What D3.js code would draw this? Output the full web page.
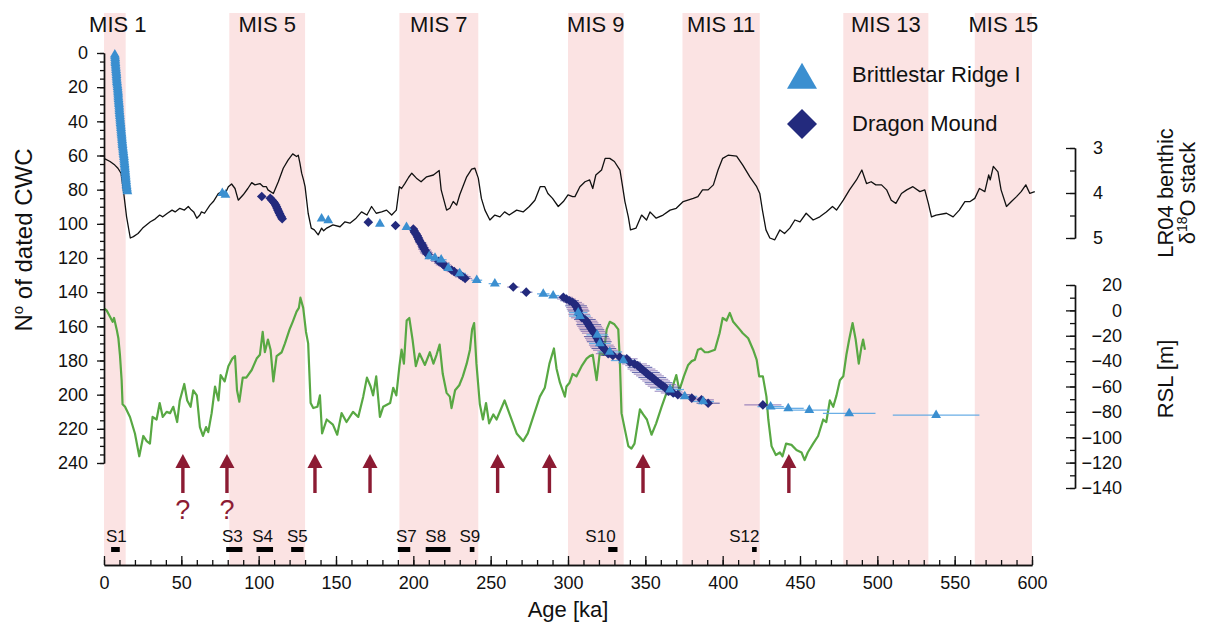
<!DOCTYPE html>
<html><head><meta charset="utf-8">
<script src="https://cdn.jsdelivr.net/npm/d3@7"></script>
<style>html,body{margin:0;padding:0;background:#fff;}svg{display:block;font-family:"Liberation Sans",Arial,Helvetica,sans-serif;}</style>
</head><body><svg id="c" width="1209" height="628"></svg>
<script>
// ---------------- DATA ----------------
const misLabels = ["MIS 1","MIS 5","MIS 7","MIS 9","MIS 11","MIS 13","MIS 15"];
const misStart  = [0, 81, 191, 300, 374, 478, 563];
const misEnd    = [14, 130, 242, 336, 424, 533, 600];

const ageTicks  = [0,50,100,150,200,250,300,350,400,450,500,550,600];
const nTicks    = [0,20,40,60,80,100,120,140,160,180,200,220,240];
const lrTicks   = [3,4,5];
const rslTicks  = [20,0,-20,-40,-60,-80,-100,-120,-140];

// LR04 benthic d18O stack (age ka, permil)
const lr04Age = [0,3.9,7,9,11,12.5,14.6,17,19,22,25,30,33,36,38,41,44,46,49,52,54.5,56,58,60,62,63,65,68.5,70.7,72,74,76,78,80.4,82.5,84.7,86.8,90,93,95.5,97.6,100.8,103,105,106,109.5,112.7,115.9,119,122,124.5,125.6,126.7,127.8,129,130,132,134,136,138.5,140.7,142,144,148,152.6,155.8,159,163,166.5,170,173,176,179.5,182.7,186,189,191,192.4,194.5,197,199,202,205,208.6,213,216.7,218,221.5,223.6,225.8,228,230,234.5,237.7,239.8,242,244,246.3,249.5,252.7,256,259,262,266.8,271,275,278.6,282,285,287,290,293.7,297,300,303,304.5,307.7,311,314,316,318,321.7,324,327,330,333.6,335,336.8,339,340.4,344,347.6,350.8,353,357,361.5,366,370,374.5,381,384,387,390.6,394,397,400,403.5,409,413,417.6,422,424,425.7,428,430.5,433.7,437,440,443.4,446.7,450,454,458.5,462.8,467,471,473.6,478,482,486.5,490,493,496,499,502.7,506,509,512,515.6,519,523,527.5,530.7,533,535,538,544.7,549,553,556.6,560,563,566,569.5,572,573,575,578,580,583.5,586.7,590,593,596,598.6,601.8];
const lr04Val = [3.23,3.30,3.38,3.45,3.56,3.93,4.53,5.00,4.97,4.90,4.78,4.64,4.58,4.49,4.53,4.45,4.38,4.42,4.34,4.38,4.30,4.36,4.42,4.56,4.49,4.42,4.45,4.27,4.19,4.12,4.01,3.97,4.04,3.86,3.80,3.90,4.16,4.04,3.90,3.77,3.82,3.79,3.86,3.86,3.93,4.01,3.75,3.45,3.27,3.13,3.19,3.16,3.34,3.56,3.71,3.86,4.45,4.78,4.82,4.93,4.78,4.84,4.78,4.71,4.75,4.64,4.67,4.56,4.42,4.49,4.30,4.45,4.42,4.38,4.49,4.38,3.86,3.90,3.79,3.65,3.56,3.67,3.75,3.64,3.60,3.50,3.93,4.38,4.34,4.19,4.27,4.04,3.64,3.47,3.45,3.67,4.12,4.38,4.60,4.49,4.53,4.42,4.49,4.38,4.42,4.30,4.16,3.86,3.86,4.01,4.12,4.30,4.19,4.04,4.08,4.08,3.86,3.75,3.71,3.90,3.60,3.49,3.23,3.23,3.30,3.49,3.79,4.19,4.53,4.82,4.78,4.49,4.60,4.42,4.56,4.49,4.38,4.34,4.19,4.12,4.08,3.93,3.93,3.82,3.49,3.23,3.16,3.18,3.38,3.64,3.86,4.01,4.38,4.82,5.00,5.04,4.82,4.90,4.78,4.60,4.64,4.45,4.60,4.53,4.42,4.30,4.38,4.16,3.93,3.71,3.49,3.79,3.75,3.82,3.82,3.93,4.16,4.23,4.01,3.93,3.86,3.97,3.93,4.23,4.53,4.49,4.45,4.53,4.38,4.19,4.19,4.12,3.90,3.97,3.60,3.71,3.41,3.53,3.93,4.30,4.19,4.08,3.97,3.82,4.01,3.97];

// Relative sea level (age ka, m)
const rslAge = [0,1.7,3.9,5.6,6.5,8.2,9.3,10.3,11.4,12,13.6,16.8,20,22.8,25.4,27.6,29.7,31.4,34,36,38,40.5,42.7,44.8,47.3,49,51.9,53.8,56,57.7,60,62,64,66,67.4,69.6,71.8,74,75.4,78,80.4,83,84.7,86,87.5,89.7,92,95.5,98.7,100.8,102.6,104,106,107.7,109.5,111.6,114.9,117,120,122,124.5,126,127,128.8,130.6,132,133.6,135.3,138,139.6,141,144,148,150.8,153.6,156.8,161,164.4,167.6,170,172.4,174,176,178.4,180.5,185,187,189,191,192.4,193.9,195.7,197.4,199.5,201.6,204,207.5,210.7,213,215,217,219,221.5,223.6,224.7,227,229.7,232,234.5,236.6,238,239.3,240.8,243,245,247,249,251.7,253.8,259,262,266.8,271,274,277.5,281.8,285,288,290.9,292.6,294.8,298,299,301,303,305.5,308.8,312,314,316,318.5,320.6,323,325,327,330,332.5,333.5,334.6,336.8,339,341,343,346.5,348.6,351,354,357,360.5,363.7,366.9,370,372,374.9,377.7,380,382,384,386,388.5,390.6,395,398,400,402.5,404.6,406.8,411,413,416.5,419.7,422,423.6,426,428.3,429.5,431.6,434.4,437,438.7,441,444.5,447.7,451,453,455,458.5,461.7,465,467,469.3,471.5,473.6,475.8,478,480,481.8,484,486,488,489.7,490.8,492];
const rslVal = [1.6,0,-5,-9,-6,-15,-22,-35,-55,-74,-76,-84,-97,-115,-99,-103,-105,-84,-86,-73,-84,-80,-81,-76,-88,-71,-58,-71,-76,-63,-67,-92,-99,-92,-96,-81,-60,-71,-51,-56,-44,-38,-36,-63,-72,-53,-53,-47,-38,-35,-17,-33,-23,-31,-56,-36,-33,-26,-15,-9,-1,2,10,2,-17,-26,-73,-77,-76,-67,-97,-86,-90,-98,-81,-88,-80,-84,-68,-53,-60,-67,-52,-84,-76,-73,-61,-67,-44,-31,-42,-8,-6,-23,-44,-34,-43,-33,-42,-35,-27,-50,-65,-68,-77,-63,-59,-52,-42,-31,-15,-10,-42,-74,-86,-73,-89,-82,-86,-71,-81,-97,-103,-97,-84,-68,-61,-42,-30,-46,-57,-68,-60,-57,-50,-52,-44,-38,-36,-35,-55,-33,-35,-15,-9,-11,-15,-39,-81,-94,-107,-109,-105,-78,-82,-86,-98,-89,-76,-65,-63,-51,-63,-52,-43,-40,-39,-31,-30,-33,-33,-31,-18,-6,-8,-2,-9,-15,-18,-22,-31,-39,-52,-52,-68,-86,-107,-114,-112,-115,-105,-106,-110,-112,-118,-112,-105,-99,-86,-88,-71,-76,-67,-55,-52,-35,-23,-10,-23,-42,-29,-23,-31];

// Brittlestar Ridge I - Holocene cluster: ages (ka) of dated corals 1..81
const briHoloceneAge = [7.0,7.1,7.2,7.3,7.3,7.4,7.5,7.6,7.7,7.8,7.9,8.0,8.1,8.1,8.2,8.3,8.4,8.5,8.7,8.8,8.9,9.0,9.1,9.2,9.2,9.3,9.4,9.5,9.6,9.7,9.8,9.9,9.9,10.0,10.1,10.2,10.3,10.4,10.5,10.6,10.7,10.8,10.9,11.0,11.1,11.2,11.3,11.4,11.5,11.6,11.7,11.8,11.9,12.0,12.1,12.3,12.4,12.5,12.6,12.8,12.9,13.0,13.1,13.2,13.3,13.4,13.5,13.6,13.7,13.8,13.9,14.0,14.1,14.2,14.3,14.4,14.5,14.6,14.8,14.9,15.1];
// Brittlestar Ridge I - older corals: [age ka, N, 2σ error ka]
const briPoints = [[76.5,82,1],[78.5,83,1],[140.7,97,1.5],[145,98,1.5],[178.4,100,2],[195.6,102,2],[210.3,119,3],[214,120,3],[218,121,3.5],[222.6,126,4],[230,129,4],[241,133,3.5],[252.7,135,4],[284,141,4],[290.4,142,4],[306.6,152,6],[307.7,154,7],[318.9,165,7],[320.6,170,7],[327,175,8],[335.7,180,8],[366,197,9],[375.5,201,8],[387.4,204,7],[431,207,8.5],[442.4,208,10],[456,209,13],[481.8,211,17],[538,212,28]];
// Dragon Mound: [age ka, N, 2σ error ka]
const dmPoints = [[102,84,1],[107.5,85,1],[108.5,86,1],[109.5,87,1],[110.3,88,1],[111,89,1],[111.5,90,1],[112,91,1],[112.5,92,1],[113,93,1],[113.5,94,1.2],[114,95,1.2],[114.7,96,1.2],[115.2,97,1.2],[170.9,99,2],[188.5,101,2],[200,103,2.5],[200.5,104,2.5],[201,105,3],[201.8,106,3],[202.5,107,3],[203,108,3],[203.5,109,3],[204,110,3],[204.8,111,3.5],[205.5,112,3.5],[206,113,3.5],[206.5,114,3.5],[207.2,115,4],[208,116,4],[208.5,117,4],[209.5,118,4],[216.5,122,5],[218.5,123,5],[219.5,124,5],[221,125,4.5],[224.7,127,5],[226.5,128,5],[230.5,130,5],[232,131,5],[233.5,132,4.5],[264.6,137,4],[273,140,4],[297,143,6],[299,144,6],[301,145,6],[303,146,6],[304.5,147,6],[305.2,148,7],[305.8,149,7],[306.2,150,7],[306.8,151,7],[307.3,153,7],[309,155,7],[310.9,156,7],[312,157,7],[312.7,158,7],[313.4,159,8],[314,160,8],[314.8,161,8],[315.5,162,8],[316.2,163,8],[317,164,8],[318.3,166,8],[319,167,8],[319.6,168,8],[320.2,169,8],[321.5,171,8],[322.3,172,8],[323.2,173,8],[324.2,174,8],[326,176,8],[329,177,8],[333.5,178,7],[338,179,7],[340,181,7],[343,182,8],[345,183,8],[346.5,184,8],[347.5,185,9],[349,186,9],[350.3,187,9],[351.5,188,9],[353,189,9],[354.5,190,9],[355.8,191,9],[357,192,9],[358.5,193,9],[360,194,10],[361.5,195,10],[363,196,10],[365,198,9],[368,199,8],[371,200,8],[380,202,8],[386.3,203,8],[390.6,205,7.5],[426,206,12]];

// Sea-level stands (S labels): label, bar start, bar end, label centre (ka)
const sLabels = ["S1","S3","S4","S5","S7","S8","S9","S10","S12"];
const sStart  = [4.6, 79, 98.6, 121, 190, 208, 236.5, 326, 419];
const sEnd    = [10.2, 89.5, 109.3, 129, 198, 224, 239.5, 332, 422];
const sCentre = [8, 83, 102.5, 125, 195.5, 214.5, 236.5, 321, 414];

// Arrows (ka) and whether they are uncertain (?)
const arrowAge = [51, 79.5, 136.4, 172, 254.5, 288, 348.5, 442.8];
const arrowQ   = [true, true, false, false, false, false, false, false];

const legendNames = ["Brittlestar Ridge I","Dragon Mound"];

// ---------------- DRAW ----------------
const svg = d3.select("#c");
const PINK = "#fbe3e3", GREEN = "#58a843", BRI = "#3b8fd0", DM = "#232a7d",
      BRI_ERR = "#5aa6e4", DM_ERR = "#7a62ad", RED = "#8c1b33", INK = "#111";

const x    = d3.scaleLinear().domain([0,600]).range([104,1032]);
const yN   = d3.scaleLinear().domain([0,240]).range([53,463]);
const yLR  = d3.scaleLinear().domain([3,5]).range([148,238]);
const yRSL = d3.scaleLinear().domain([20,-140]).range([285,488]);

// MIS bands
const bands = misLabels.map((l,i)=>({l, a:misStart[i], b:misEnd[i]}));
svg.append("g").selectAll("rect").data(bands).join("rect")
  .attr("x", d=>x(d.a)).attr("width", d=>x(d.b)-x(d.a))
  .attr("y", 13).attr("height", 565-13).attr("fill", PINK);
svg.append("g").selectAll("text").data(bands).join("text")
  .attr("x", d=>x((d.a+d.b)/2) + (d.a===0?3:0)).attr("y", 32)
  .attr("text-anchor","middle").attr("font-size",22).attr("fill",INK).text(d=>d.l);

// LR04 curve
const lrData = lr04Age.map((a,i)=>[a, lr04Val[i]]);
svg.append("path").datum(lrData)
  .attr("d", d3.line().x(d=>x(d[0])).y(d=>yLR(d[1])))
  .attr("fill","none").attr("stroke","#111").attr("stroke-width",1.3).attr("stroke-linejoin","round");

// RSL curve
const rslData = rslAge.map((a,i)=>[a, rslVal[i]]);
svg.append("path").datum(rslData)
  .attr("d", d3.line().x(d=>x(d[0])).y(d=>yRSL(d[1])))
  .attr("fill","none").attr("stroke",GREEN).attr("stroke-width",2.2).attr("stroke-linejoin","round");

// Error bars
const bri = briHoloceneAge.map((a,i)=>[a, i+1, 0.2]).concat(briPoints);
const errG = svg.append("g");
errG.selectAll(".ed").data(dmPoints).join("line")
  .attr("x1", d=>x(d[0]-d[2])).attr("x2", d=>x(d[0]+d[2]))
  .attr("y1", d=>yN(d[1])).attr("y2", d=>yN(d[1]))
  .attr("stroke", (d,i)=> i%3===0 ? "#2c3290" : DM_ERR).attr("stroke-width",1.1).attr("opacity",0.7);
errG.selectAll(".eb").data(briPoints).join("line")
  .attr("x1", d=>x(d[0]-d[2])).attr("x2", d=>x(d[0]+d[2]))
  .attr("y1", d=>yN(d[1])).attr("y2", d=>yN(d[1]))
  .attr("stroke", BRI_ERR).attr("stroke-width",1.3).attr("opacity",0.9);

// Markers
const tri = d3.symbol().type(d3.symbolTriangle);
const diamond = r => `M0,${-r}L${r},0L0,${r}L${-r},0Z`;
svg.append("g").selectAll("path").data(dmPoints).join("path")
  .attr("transform", d=>`translate(${x(d[0])},${yN(d[1])})`)
  .attr("d", diamond(4.8)).attr("fill", DM);
svg.append("g").selectAll("path").data(bri).join("path")
  .attr("transform", d=>`translate(${x(d[0])},${yN(d[1])})`)
  .attr("d", tri.size(42)()).attr("fill", BRI);

// Legend
svg.append("path").attr("transform","translate(802,80)").attr("d", tri.size(390)()).attr("fill", BRI);
svg.append("path").attr("transform","translate(802,124)").attr("d", diamond(15)).attr("fill", DM);
svg.append("text").attr("x",852).attr("y",82).attr("font-size",22).attr("fill",INK).text(legendNames[0]);
svg.append("text").attr("x",852).attr("y",131).attr("font-size",22).attr("fill",INK).text(legendNames[1]);

// Arrows
const arrows = arrowAge.map((a,i)=>({a, q:arrowQ[i]}));
const ag = svg.append("g").attr("fill", RED);
ag.selectAll("path").data(arrows).join("path")
  .attr("d", d=>{const c=x(d.a); return `M${c},454L${c+7.5},468L${c-7.5},468Z`;});
ag.selectAll("rect").data(arrows).join("rect")
  .attr("x", d=>x(d.a)-1.7).attr("width",3.4).attr("y",467).attr("height",26);
ag.selectAll("text").data(arrows.filter(d=>d.q)).join("text")
  .attr("x", d=>x(d.a)).attr("y",519).attr("text-anchor","middle").attr("font-size",27).text("?");

// S labels & bars
const sData = sLabels.map((l,i)=>({l, a:sStart[i], b:sEnd[i], c:sCentre[i]}));
svg.append("g").selectAll("rect").data(sData).join("rect")
  .attr("x", d=>x(d.a)).attr("width", d=>Math.max(3, x(d.b)-x(d.a)))
  .attr("y",547).attr("height",5).attr("fill","#000");
svg.append("g").selectAll("text").data(sData).join("text")
  .attr("x", d=>x(d.c)).attr("y",542).attr("text-anchor","middle").attr("font-size",17).attr("fill",INK).text(d=>d.l);

// Axes
function styleAxis(g, fs){
  g.selectAll("path.domain").attr("stroke","#111").attr("stroke-width",1.4);
  g.selectAll(".tick line").attr("stroke","#111").attr("stroke-width",1.3);
  g.selectAll("text").attr("font-size",fs).attr("fill",INK).attr("font-family",null);
}
const fmt = d3.format("d");
// left
const gl = svg.append("g").attr("transform","translate(104,0)")
  .call(d3.axisLeft(yN).tickValues(d3.range(0,241,5)).tickSize(4).tickSizeOuter(0).tickFormat(""));
const gl2 = svg.append("g").attr("transform","translate(104,0)")
  .call(d3.axisLeft(yN).tickValues(nTicks).tickSize(7).tickSizeOuter(0).tickPadding(9).tickFormat(fmt));
styleAxis(gl,18); styleAxis(gl2,18);
// bottom
const gb = svg.append("g").attr("transform","translate(0,565)")
  .call(d3.axisBottom(x).tickValues(d3.range(0,601,10)).tickSize(-5).tickSizeOuter(0).tickFormat(""));
const gb2 = svg.append("g").attr("transform","translate(0,565)")
  .call(d3.axisBottom(x).tickValues(ageTicks).tickSize(-9).tickSizeOuter(0).tickPadding(11).tickFormat(fmt));
styleAxis(gb,18); styleAxis(gb2,18);
// right LR04
const gr1 = svg.append("g").attr("transform","translate(1075,0)")
  .call(d3.axisRight(yLR).tickValues([3,3.5,4,4.5,5]).tickSize(-5).tickSizeOuter(0).tickFormat(""));
const gr1b = svg.append("g").attr("transform","translate(1075,0)")
  .call(d3.axisRight(yLR).tickValues(lrTicks).tickSize(-9).tickSizeOuter(0).tickPadding(18).tickFormat(fmt));
styleAxis(gr1,18); styleAxis(gr1b,18);
// right RSL
const gr2 = svg.append("g").attr("transform","translate(1075,0)")
  .call(d3.axisRight(yRSL).tickValues(d3.range(-140,21,10)).tickSize(-5).tickSizeOuter(0).tickFormat(""));
const gr2b = svg.append("g").attr("transform","translate(1075,0)")
  .call(d3.axisRight(yRSL).tickValues(rslTicks).tickSize(-9).tickSizeOuter(0).tickPadding(47).tickFormat(fmt));
gr2b.selectAll("text").attr("text-anchor","end");
styleAxis(gr2,18); styleAxis(gr2b,18);

// Axis titles
svg.append("text").attr("x",568).attr("y",617).attr("text-anchor","middle")
  .attr("font-size",22).attr("fill",INK).text("Age [ka]");
const ty = svg.append("text").attr("transform","translate(32,240) rotate(-90)")
  .attr("text-anchor","middle").attr("font-size",24).attr("fill",INK);
ty.append("tspan").text("N");
ty.append("tspan").attr("font-size",15).attr("dy",-9).text("o");
ty.append("tspan").attr("dy",9).text(" of dated CWC");

svg.append("text").attr("transform","translate(1173,193) rotate(-90)")
  .attr("text-anchor","middle").attr("font-size",22).attr("fill",INK).text("LR04 benthic");
const t2 = svg.append("text").attr("transform","translate(1195,193) rotate(-90)")
  .attr("text-anchor","middle").attr("font-size",22).attr("fill",INK);
t2.append("tspan").text("δ");
t2.append("tspan").attr("font-size",14).attr("dy",-8).text("18");
t2.append("tspan").attr("dy",8).text("O stack");
svg.append("text").attr("transform","translate(1173,379) rotate(-90)")
  .attr("text-anchor","middle").attr("font-size",22).attr("fill",INK).text("RSL [m]");
</script></body></html>
